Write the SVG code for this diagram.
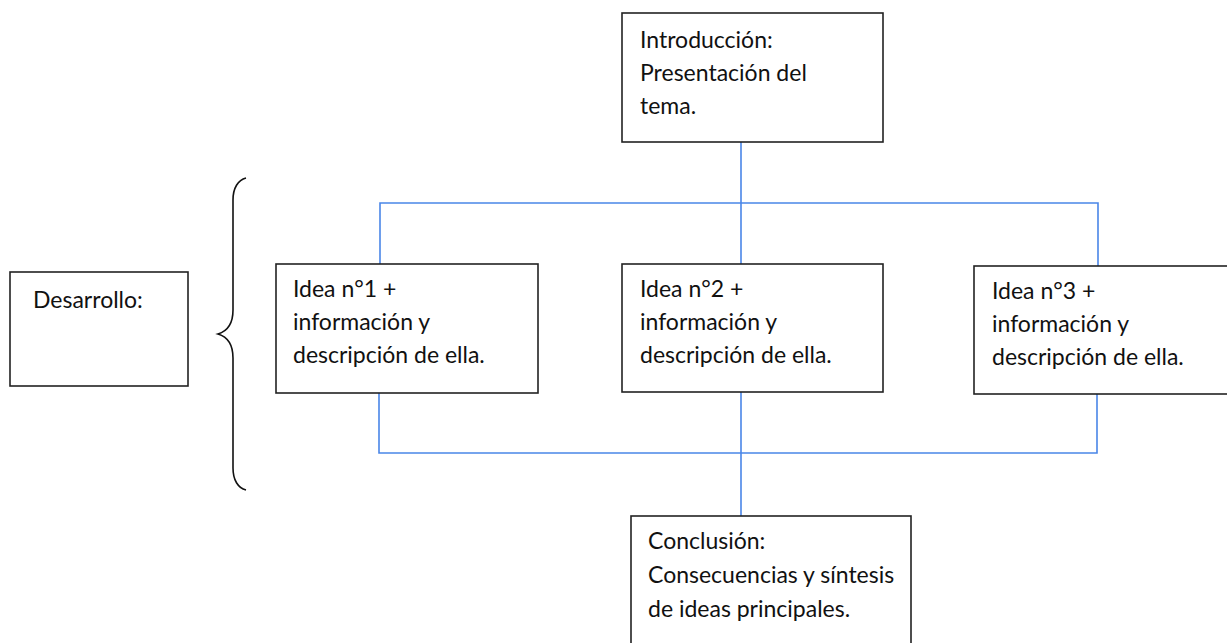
<svg xmlns="http://www.w3.org/2000/svg" width="1227" height="643" viewBox="0 0 1227 643">
<style>
.box{fill:#fff;stroke:#222;stroke-width:1.6}
.t{font-family:Lato,"Open Sans","Liberation Sans",sans-serif;font-size:23px;fill:#111}
.c{fill:none;stroke:#4a86e8;stroke-width:1.6}
</style>
<rect width="1227" height="643" fill="#fff"/>
<g id="connectors">
<path class="c" d="M741 142V264M380 264V203H1098V266"/>
<path class="c" d="M379 393V453H1097V394M741 392V516"/>
</g>
<g id="intro"><rect class="box" x="622" y="13" width="261" height="129"/>
<text class="t" x="640" y="48">Introducción:</text><text class="t" x="640" y="81">Presentación del</text><text class="t" x="640" y="114">tema.</text></g>
<g id="idea1"><rect class="box" x="276" y="264" width="262" height="129"/>
<text class="t" x="293" y="297">Idea n°1 +</text><text class="t" x="293" y="330">información y</text><text class="t" x="293" y="363">descripción de ella.</text></g>
<g id="idea2"><rect class="box" x="622" y="264" width="261" height="128"/>
<text class="t" x="640" y="297">Idea n°2 +</text><text class="t" x="640" y="330">información y</text><text class="t" x="640" y="363">descripción de ella.</text></g>
<g id="idea3"><rect class="box" x="974" y="266" width="270" height="128"/>
<text class="t" x="992" y="299">Idea n°3 +</text><text class="t" x="992" y="332">información y</text><text class="t" x="992" y="365">descripción de ella.</text></g>
<g id="conclusion"><rect class="box" x="631" y="516" width="280" height="140"/>
<text class="t" x="648" y="549">Conclusión:</text><text class="t" x="648" y="583">Consecuencias y síntesis</text><text class="t" x="648" y="617">de ideas principales.</text></g>
<g id="desarrollo"><rect class="box" x="10" y="272" width="178" height="114"/>
<text class="t" x="33" y="308">Desarrollo:</text></g>
<g id="brace"><path d="M246 178C238 180 233 188 233 200V310C233 324 228 331 218 334C228 337 233 344 233 358V468C233 480 238 488 246 490" fill="none" stroke="#111" stroke-width="1.6"/></g>
</svg>
